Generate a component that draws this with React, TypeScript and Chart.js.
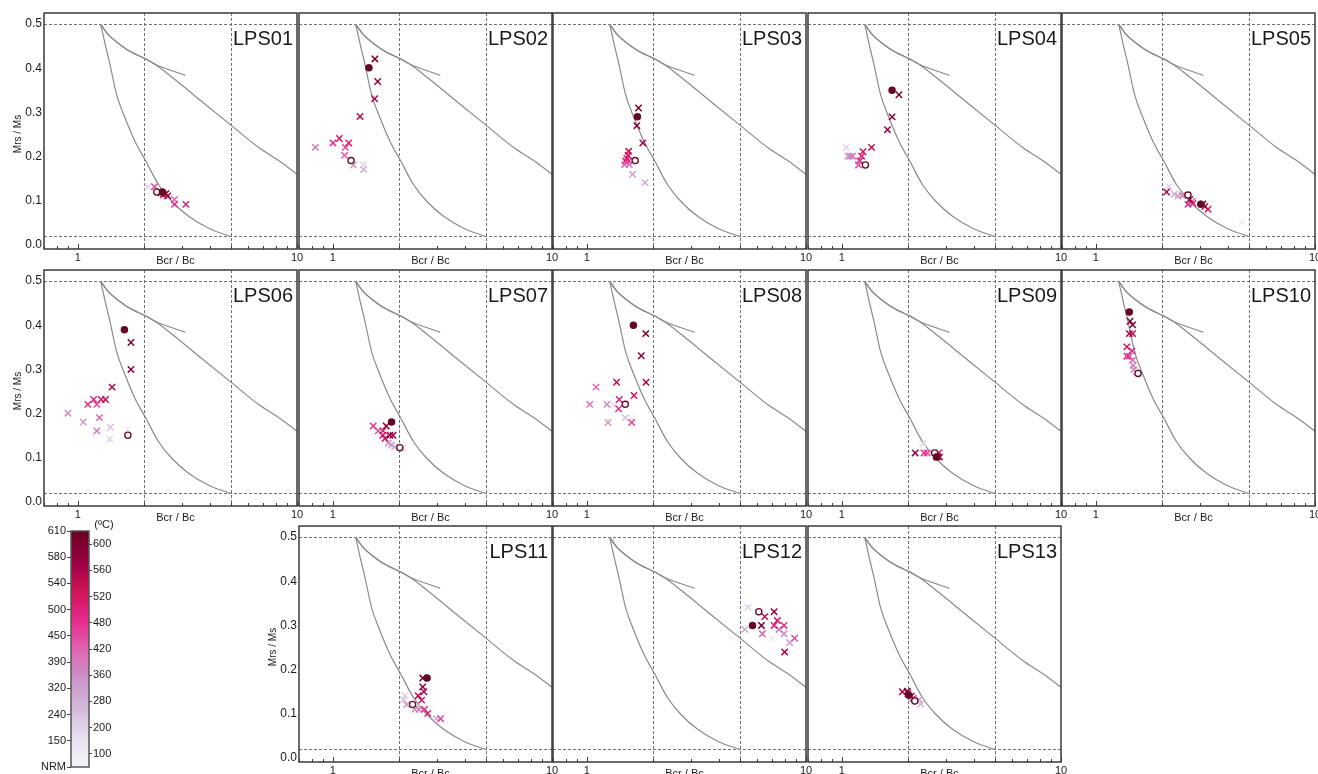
import React, { useEffect, useRef } from "react";
import { Chart, registerables } from "chart.js";
Chart.register(...registerables);

type Pt = [string, number, number];

// Thermal demagnetisation steps (colour index), colour bar labels
const STEPS = ["NRM", "100", "150", "200", "240", "280", "320", "360", "390", "420", "450", "480", "500", "520", "540", "560", "580", "600", "610"];
const CBAR_LEFT = ["NRM", "150", "240", "320", "390", "450", "500", "540", "580", "610"];
const CBAR_RIGHT = ["100", "200", "280", "360", "420", "480", "520", "560", "600"];
const PURD = ["#f7f4f9", "#e7e1ef", "#d4b9da", "#c994c7", "#df65b0", "#e7298a", "#ce1256", "#980043", "#67001f"];

// Axes
const X_LABELED = [1, 10];
const X_MINOR = [0.7, 0.8, 0.9, 1, 2, 3, 4, 5, 6, 7, 8, 9, 10];
const Y_TICKS = [0, 0.1, 0.2, 0.3, 0.4, 0.5];
const V_REF = [2, 5];
const H_REF = [0.5, 0.02];

// Reference mixing curves (Day plot)
const SDMD_BCR = [1.27, 1.33, 1.40, 1.50, 1.64, 1.82, 2.04, 2.33, 2.68, 3.20, 3.95, 5.0];
const SDMD_MRS = [0.5, 0.455, 0.409, 0.341, 0.288, 0.235, 0.190, 0.137, 0.099, 0.065, 0.038, 0.019];
const SPSD1_BCR = [1.27, 1.37, 1.58, 1.76, 2.04, 2.25, 2.50, 3.09];
const SPSD1_MRS = [0.5, 0.477, 0.451, 0.436, 0.421, 0.409, 0.400, 0.384];
const SPSD2_BCR = [1.27, 1.37, 1.58, 1.76, 2.04, 2.25, 2.68, 3.82, 5.06, 6.71, 8.30, 10.0];
const SPSD2_MRS = [0.5, 0.477, 0.451, 0.436, 0.421, 0.409, 0.380, 0.318, 0.269, 0.220, 0.190, 0.160];

// Samples: [step, Bcr/Bc, Mrs/Ms]
const LPS01: Pt[] = [["NRM", 2.29, 0.120], ["200", 2.085, 0.132], ["280", 2.46, 0.111], ["420", 2.76, 0.103], ["450", 2.236, 0.132], ["480", 2.76, 0.092], ["500", 3.11, 0.092], ["520", 2.40, 0.118], ["540", 2.45, 0.115], ["560", 2.57, 0.111], ["580", 2.52, 0.116], ["600", 2.37, 0.120], ["610", 2.43, 0.120]];
const LPS02: Pt[] = [["NRM", 1.21, 0.191], ["200", 1.38, 0.182], ["280", 1.38, 0.171], ["320", 1.24, 0.181], ["390", 0.832, 0.221], ["420", 1.13, 0.203], ["450", 1.14, 0.221], ["480", 1.00, 0.231], ["500", 1.18, 0.231], ["520", 1.07, 0.241], ["540", 1.33, 0.291], ["560", 1.55, 0.331], ["580", 1.60, 0.370], ["600", 1.555, 0.421], ["610", 1.46, 0.401]];
const LPS03: Pt[] = [["NRM", 1.66, 0.191], ["280", 1.84, 0.141], ["320", 1.615, 0.160], ["390", 1.56, 0.182], ["420", 1.486, 0.182], ["450", 1.55, 0.190], ["480", 1.50, 0.190], ["500", 1.52, 0.196], ["520", 1.54, 0.203], ["540", 1.55, 0.212], ["560", 1.80, 0.231], ["580", 1.69, 0.270], ["600", 1.72, 0.310], ["610", 1.70, 0.290]];
const LPS04: Pt[] = [["NRM", 1.28, 0.181], ["200", 1.045, 0.221], ["280", 1.19, 0.190], ["320", 1.065, 0.201], ["360", 1.09, 0.201], ["390", 1.12, 0.201], ["450", 1.19, 0.181], ["480", 1.21, 0.191], ["500", 1.23, 0.201], ["520", 1.248, 0.211], ["540", 1.365, 0.221], ["560", 1.614, 0.261], ["580", 1.694, 0.290], ["600", 1.82, 0.340], ["610", 1.694, 0.350]];
const LPS05: Pt[] = [["NRM", 2.63, 0.113], ["100", 4.65, 0.052], ["200", 2.15, 0.132], ["280", 2.28, 0.115], ["320", 2.37, 0.111], ["390", 2.48, 0.112], ["420", 2.75, 0.099], ["480", 2.63, 0.092], ["500", 2.77, 0.094], ["520", 3.25, 0.081], ["540", 3.14, 0.087], ["560", 2.10, 0.120], ["580", 2.68, 0.103], ["600", 3.08, 0.093], ["610", 3.01, 0.092]];
const LPS06: Pt[] = [["NRM", 1.69, 0.151], ["100", 1.686, 0.164], ["200", 1.397, 0.142], ["240", 1.406, 0.169], ["320", 1.058, 0.181], ["360", 0.90, 0.201], ["390", 1.22, 0.161], ["420", 1.254, 0.191], ["450", 1.22, 0.221], ["480", 1.11, 0.221], ["500", 1.18, 0.232], ["520", 1.277, 0.232], ["540", 1.336, 0.232], ["560", 1.432, 0.260], ["580", 1.746, 0.300], ["600", 1.746, 0.361], ["610", 1.63, 0.390]];
const LPS07: Pt[] = [["NRM", 2.02, 0.123], ["200", 2.08, 0.121], ["280", 1.91, 0.125], ["320", 1.85, 0.129], ["360", 1.79, 0.133], ["450", 1.61, 0.161], ["480", 1.527, 0.172], ["500", 1.69, 0.161], ["520", 1.69, 0.151], ["540", 1.73, 0.144], ["560", 1.88, 0.151], ["580", 1.82, 0.151], ["600", 1.75, 0.172], ["610", 1.852, 0.181]];
const LPS08: Pt[] = [["NRM", 1.496, 0.221], ["100", 1.60, 0.191], ["150", 1.32, 0.221], ["240", 1.496, 0.191], ["320", 1.248, 0.180], ["360", 1.235, 0.221], ["390", 1.03, 0.221], ["420", 1.10, 0.260], ["450", 1.60, 0.180], ["480", 1.395, 0.211], ["500", 1.405, 0.232], ["520", 1.64, 0.241], ["540", 1.366, 0.271], ["560", 1.86, 0.271], ["580", 1.77, 0.331], ["600", 1.856, 0.381], ["610", 1.63, 0.400]];
const LPS09: Pt[] = [["NRM", 2.65, 0.111], ["200", 2.34, 0.133], ["450", 2.45, 0.111], ["480", 2.37, 0.111], ["520", 2.77, 0.111], ["560", 2.79, 0.102], ["580", 2.16, 0.111], ["600", 2.72, 0.102], ["610", 2.70, 0.102]];
const LPS10: Pt[] = [["NRM", 1.557, 0.291], ["320", 1.525, 0.294], ["360", 1.49, 0.300], ["390", 1.48, 0.309], ["420", 1.47, 0.321], ["450", 1.42, 0.330], ["480", 1.384, 0.330], ["500", 1.46, 0.342], ["520", 1.384, 0.351], ["540", 1.47, 0.381], ["560", 1.42, 0.381], ["580", 1.47, 0.401], ["600", 1.432, 0.409], ["610", 1.42, 0.430]];
const LPS11: Pt[] = [["NRM", 2.31, 0.121], ["200", 2.13, 0.141], ["240", 2.10, 0.132], ["280", 2.96, 0.089], ["320", 2.17, 0.121], ["360", 2.37, 0.110], ["390", 2.47, 0.110], ["450", 3.10, 0.089], ["480", 2.62, 0.110], ["500", 2.71, 0.101], ["520", 2.54, 0.131], ["540", 2.45, 0.141], ["560", 2.60, 0.150], ["580", 2.57, 0.161], ["600", 2.57, 0.181], ["610", 2.69, 0.181]];
const LPS12: Pt[] = [["NRM", 6.09, 0.331], ["100", 7.02, 0.271], ["200", 5.44, 0.341], ["280", 5.26, 0.291], ["320", 8.42, 0.261], ["360", 7.94, 0.281], ["390", 7.53, 0.291], ["420", 6.32, 0.281], ["450", 8.87, 0.271], ["480", 7.94, 0.300], ["500", 7.15, 0.300], ["520", 7.40, 0.311], ["540", 6.48, 0.320], ["560", 7.99, 0.240], ["580", 7.15, 0.331], ["600", 6.26, 0.300], ["610", 5.70, 0.300]];
const LPS13: Pt[] = [["NRM", 2.15, 0.129], ["280", 2.29, 0.122], ["320", 2.25, 0.132], ["500", 2.11, 0.135], ["520", 2.00, 0.146], ["560", 1.887, 0.150], ["580", 2.07, 0.140], ["600", 1.99, 0.151], ["610", 2.02, 0.142]];

const PANELS = [
  { name: "LPS01", pts: LPS01, col: 0, row: 0, showY: true },
  { name: "LPS02", pts: LPS02, col: 1, row: 0, showY: false },
  { name: "LPS03", pts: LPS03, col: 2, row: 0, showY: false },
  { name: "LPS04", pts: LPS04, col: 3, row: 0, showY: false },
  { name: "LPS05", pts: LPS05, col: 4, row: 0, showY: false },
  { name: "LPS06", pts: LPS06, col: 0, row: 1, showY: true },
  { name: "LPS07", pts: LPS07, col: 1, row: 1, showY: false },
  { name: "LPS08", pts: LPS08, col: 2, row: 1, showY: false },
  { name: "LPS09", pts: LPS09, col: 3, row: 1, showY: false },
  { name: "LPS10", pts: LPS10, col: 4, row: 1, showY: false },
  { name: "LPS11", pts: LPS11, col: 1, row: 2, showY: true },
  { name: "LPS12", pts: LPS12, col: 2, row: 2, showY: false },
  { name: "LPS13", pts: LPS13, col: 3, row: 2, showY: false },
];

// Layout
const COL_LEFT = [44, 299, 553, 808, 1062];
const ROW_TOP = [13, 270, 526];
const BOX_W = 253;
const BOX_H = 236;
const Y_W = 44;
const PAD_T = 10;
const PAD_R = 12;
const X_H = 26;
const FONT = '"Liberation Sans", Arial, Helvetica, sans-serif';
const DARK = "#650a26";
const TEXT = "#1a1a1a";

Chart.defaults.font.family = FONT;

function hexRgb(h: string) {
  return [parseInt(h.slice(1, 3), 16), parseInt(h.slice(3, 5), 16), parseInt(h.slice(5, 7), 16)];
}
function stepColor(step: string) {
  const i = STEPS.indexOf(step);
  const t = i / (STEPS.length - 1);
  const pos = t * (PURD.length - 1);
  const k = Math.min(Math.floor(pos), PURD.length - 2);
  const f = pos - k;
  const a = hexRgb(PURD[k]);
  const b = hexRgb(PURD[k + 1]);
  const c = a.map((v, j) => Math.round(v + (b[j] - v) * f));
  return `rgb(${c[0]},${c[1]},${c[2]})`;
}
function curve(xs: number[], ys: number[]) {
  return xs.map((x, i) => ({ x, y: ys[i] }));
}

function Panel({ p }: { p: (typeof PANELS)[number] }) {
  const ref = useRef<HTMLCanvasElement>(null);
  const boxL = COL_LEFT[p.col];
  const boxT = ROW_TOP[p.row];
  const cl = boxL - Y_W;
  const ct = boxT - PAD_T;
  const w = Y_W + BOX_W + PAD_R;
  const h = PAD_T + BOX_H + X_H;

  useEffect(() => {
    const idx = (s: string) => STEPS.indexOf(s);
    const crosses = p.pts.filter((d) => d[0] !== "NRM" && d[0] !== "610").sort((a, b) => idx(a[0]) - idx(b[0]));
    const circles = p.pts.filter((d) => d[0] === "NRM" || d[0] === "610");

    const deco = {
      id: "deco" + p.name,
      beforeDatasetsDraw(chart: any) {
        const { ctx, chartArea: a, scales } = chart;
        const x = scales.x, y = scales.y;
        ctx.save();
        ctx.strokeStyle = "#727272";
        ctx.lineWidth = 1;
        ctx.setLineDash([3, 2]);
        V_REF.forEach((v) => {
          const px = Math.round(x.getPixelForValue(v)) + 0.5;
          ctx.beginPath();
          ctx.moveTo(px, a.top);
          ctx.lineTo(px, a.bottom);
          ctx.stroke();
        });
        H_REF.forEach((v) => {
          const py = Math.round(y.getPixelForValue(v)) + 0.5;
          ctx.beginPath();
          ctx.moveTo(a.left, py);
          ctx.lineTo(a.right, py);
          ctx.stroke();
        });
        ctx.restore();
      },
      afterDraw(chart: any) {
        const { ctx, chartArea: a, scales } = chart;
        const x = scales.x;
        ctx.save();
        ctx.strokeStyle = "#3a3a3a";
        ctx.lineWidth = 1.5;
        ctx.strokeRect(a.left, a.top, a.right - a.left, a.bottom - a.top);
        ctx.lineWidth = 1;
        X_MINOR.forEach((v) => {
          const px = Math.round(x.getPixelForValue(v)) + 0.5;
          const len = X_LABELED.includes(v) ? 5 : 3;
          ctx.beginPath();
          ctx.moveTo(px, a.bottom);
          ctx.lineTo(px, a.bottom - len);
          ctx.stroke();
        });
        ctx.fillStyle = TEXT;
        ctx.font = `20px ${FONT}`;
        ctx.textAlign = "right";
        ctx.textBaseline = "alphabetic";
        ctx.fillText(p.name, a.right - 4, a.top + 32);
        ctx.font = `11px ${FONT}`;
        ctx.textAlign = "center";
        ctx.textBaseline = "middle";
        ctx.fillText("Bcr / Bc", (a.left + a.right) / 2 + 5, a.bottom + 12);
        if (p.showY) {
          ctx.translate(a.left - 26, (a.top + a.bottom) / 2 + 3);
          ctx.rotate(-Math.PI / 2);
          ctx.font = `10px ${FONT}`;
          ctx.fillText("Mrs / Ms", 0, 0);
        }
        ctx.restore();
      },
    };

    const curveStyle = {
      showLine: true,
      pointRadius: 0,
      borderColor: "#8a8a8a",
      borderWidth: 1.2,
      fill: false,
      cubicInterpolationMode: "monotone" as const,
      order: 2,
    };

    const chart = new Chart(ref.current!, {
      type: "scatter",
      data: {
        datasets: [
          {
            data: circles.map((d) => ({ x: d[1], y: d[2] })),
            pointStyle: "circle",
            pointRadius: 3.1,
            pointBorderWidth: 1.3,
            pointBackgroundColor: circles.map((d) => (d[0] === "NRM" ? "#ffffff" : DARK)),
            pointBorderColor: DARK,
            order: 0,
          },
          {
            data: crosses.map((d) => ({ x: d[1], y: d[2] })),
            pointStyle: "crossRot",
            pointRadius: 4.5,
            pointBorderWidth: 1.5,
            pointBorderColor: crosses.map((d) => stepColor(d[0])),
            pointBackgroundColor: crosses.map((d) => stepColor(d[0])),
            order: 1,
          },
          { ...curveStyle, data: curve(SDMD_BCR, SDMD_MRS) },
          { ...curveStyle, data: curve(SPSD1_BCR, SPSD1_MRS) },
          { ...curveStyle, data: curve(SPSD2_BCR, SPSD2_MRS) },
        ] as any,
      },
      options: {
        responsive: false,
        animation: false,
        devicePixelRatio: 1,
        events: [],
        layout: { padding: { top: PAD_T, right: PAD_R, left: 0, bottom: 0 } },
        plugins: { legend: { display: false }, tooltip: { enabled: false } },
        scales: {
          x: {
            type: "logarithmic",
            min: 0.7,
            max: 10,
            afterFit: (s: any) => { s.height = X_H; },
            afterBuildTicks: (s: any) => { s.ticks = X_MINOR.map((v) => ({ value: v })); },
            grid: { display: false, drawTicks: false, tickLength: 0 },
            border: { display: false },
            ticks: {
              autoSkip: false,
              maxRotation: 0,
              padding: 2,
              color: TEXT,
              font: { size: 11 },
              callback: (v: any) => (X_LABELED.includes(Number(v)) ? String(v) : ""),
            },
          },
          y: {
            type: "linear",
            min: -0.009,
            max: 0.525,
            afterFit: (s: any) => { s.width = Y_W; },
            afterBuildTicks: (s: any) => { s.ticks = Y_TICKS.map((v) => ({ value: v })); },
            grid: { display: false, drawTicks: false, tickLength: 0 },
            border: { display: false },
            ticks: {
              display: p.showY,
              padding: 2,
              color: TEXT,
              font: { size: 12 },
              callback: (v: any) => Number(v).toFixed(1),
            },
          },
        },
      } as any,
      plugins: [deco],
    });
    return () => chart.destroy();
  }, []);

  return (
    <canvas
      ref={ref}
      width={w}
      height={h}
      style={{ position: "absolute", left: cl, top: ct, width: w, height: h }}
    />
  );
}

function ColorBar() {
  const ref = useRef<HTMLCanvasElement>(null);
  const W = 130, H = 260, TOP = 515;
  useEffect(() => {
    const deco = {
      id: "cbarDeco",
      afterDraw(chart: any) {
        const { ctx, chartArea: a } = chart;
        ctx.save();
        ctx.strokeStyle = "#555555";
        ctx.lineWidth = 1.5;
        ctx.strokeRect(a.left, a.top, a.right - a.left, a.bottom - a.top);
        ctx.fillStyle = TEXT;
        ctx.font = `11px ${FONT}`;
        ctx.textAlign = "center";
        ctx.textBaseline = "middle";
        ctx.fillText("(ºC)", 104, 10);
        ctx.restore();
      },
    };
    const chart = new Chart(ref.current!, {
      type: "bar",
      data: {
        labels: [""],
        datasets: [
          {
            data: [[0, CBAR_LEFT.length - 1]] as any,
            borderWidth: 0,
            borderSkipped: false,
            barPercentage: 1,
            categoryPercentage: 1,
            yAxisID: "y",
            backgroundColor: (c: any) => {
              const ca = c.chart.chartArea;
              if (!ca) return PURD[4];
              const g = c.chart.ctx.createLinearGradient(0, ca.bottom, 0, ca.top);
              PURD.forEach((col, i) => g.addColorStop(i / (PURD.length - 1), col));
              return g;
            },
          },
        ],
      },
      options: {
        responsive: false,
        animation: false,
        devicePixelRatio: 1,
        events: [],
        layout: { padding: { top: 16, bottom: 8, left: 0, right: 0 } },
        plugins: { legend: { display: false }, tooltip: { enabled: false } },
        scales: {
          x: { display: false },
          y: {
            position: "left",
            min: 0,
            max: CBAR_LEFT.length - 1,
            afterFit: (s: any) => { s.width = 71; },
            afterBuildTicks: (s: any) => { s.ticks = CBAR_LEFT.map((_, i) => ({ value: i })); },
            grid: { display: true, drawOnChartArea: false, drawTicks: true, tickLength: 4, color: "#444444" },
            border: { display: false },
            ticks: {
              autoSkip: false,
              padding: 1,
              color: TEXT,
              font: { size: 11 },
              callback: (v: any) => CBAR_LEFT[Math.round(Number(v))],
            },
          },
          y2: {
            position: "right",
            min: 0,
            max: CBAR_LEFT.length - 1,
            afterFit: (s: any) => { s.width = 41; },
            afterBuildTicks: (s: any) => { s.ticks = CBAR_RIGHT.map((_, i) => ({ value: i + 0.5 })); },
            grid: { display: true, drawOnChartArea: false, drawTicks: true, tickLength: 3, color: "#444444" },
            border: { display: false },
            ticks: {
              autoSkip: false,
              padding: 1,
              color: TEXT,
              font: { size: 11 },
              callback: (v: any) => CBAR_RIGHT[Math.floor(Number(v))],
            },
          },
        },
      } as any,
      plugins: [deco],
    });
    return () => chart.destroy();
  }, []);
  return (
    <canvas
      ref={ref}
      width={W}
      height={H}
      style={{ position: "absolute", left: 0, top: TOP, width: W, height: H }}
    />
  );
}

export default function App() {
  return (
    <div
      style={{
        position: "absolute",
        left: 0,
        top: 0,
        width: 1318,
        height: 774,
        overflow: "hidden",
        background: "#ffffff",
      }}
    >
      {PANELS.map((p) => (
        <Panel key={p.name} p={p} />
      ))}
      <ColorBar />
    </div>
  );
}
